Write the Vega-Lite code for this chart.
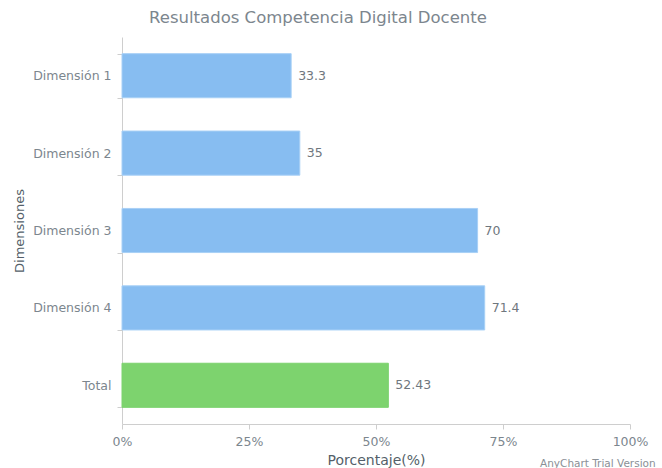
{
  "$schema": "https://vega.github.io/schema/vega-lite/v6.json",
  "width": 508,
  "height": 387,
  "autosize": {"type": "none"},
  "padding": {"left": 122, "top": 37, "right": 32, "bottom": 44},
  "background": "white",
  "title": {
    "text": "Resultados Competencia Digital Docente",
    "anchor": "middle",
    "frame": "group",
    "dx": -58,
    "font": "DejaVu Sans",
    "fontSize": 16.5,
    "fontWeight": "normal",
    "color": "#7c868e",
    "offset": 5
  },
  "config": {
    "view": {"stroke": null},
    "font": "DejaVu Sans"
  },
  "data": {
    "values": [
      {"dim": "Dimensión 1", "val": 33.3, "grp": "dim"},
      {"dim": "Dimensión 2", "val": 35, "grp": "dim"},
      {"dim": "Dimensión 3", "val": 70, "grp": "dim"},
      {"dim": "Dimensión 4", "val": 71.4, "grp": "dim"},
      {"dim": "Total", "val": 52.43, "grp": "total"}
    ]
  },
  "encoding": {
    "y": {
      "field": "dim",
      "type": "nominal",
      "sort": null,
      "scale": {"paddingInner": 0.43, "paddingOuter": 0.215},
      "axis": {
        "title": "Dimensiones",
        "titleFont": "DejaVu Sans",
        "titleFontSize": 13,
        "titleFontWeight": "normal",
        "titleColor": "#545f69",
        "titlePadding": 6,
        "labelFont": "DejaVu Sans",
        "labelFontSize": 12.5,
        "labelColor": "#7c868e",
        "labelPadding": 6,
        "tickBand": "extent",
        "tickSize": 5,
        "tickColor": "#cecece",
        "domainColor": "#cecece",
        "grid": false
      }
    },
    "x": {
      "field": "val",
      "type": "quantitative",
      "scale": {"domain": [0, 100], "nice": false},
      "axis": {
        "title": "Porcentaje(%)",
        "titleFont": "DejaVu Sans",
        "titleFontSize": 14,
        "titleFontWeight": "normal",
        "titleColor": "#545f69",
        "titlePadding": 6,
        "values": [0, 25, 50, 75, 100],
        "labelExpr": "datum.value + '%'",
        "labelFlush": false,
        "labelFont": "DejaVu Sans",
        "labelFontSize": 12.5,
        "labelColor": "#7c868e",
        "labelPadding": 6,
        "tickSize": 5,
        "tickColor": "#cecece",
        "domainColor": "#cecece",
        "grid": false
      }
    }
  },
  "layer": [
    {
      "mark": {"type": "bar", "strokeWidth": 1},
      "encoding": {
        "color": {
          "field": "grp",
          "type": "nominal",
          "scale": {"domain": ["dim", "total"], "range": ["#87bdf1", "#7dd36e"]},
          "legend": null
        },
        "stroke": {
          "field": "grp",
          "type": "nominal",
          "scale": {"domain": ["dim", "total"], "range": ["#a8d0f6", "#7dd36e"]},
          "legend": null
        }
      }
    },
    {
      "mark": {"type": "text", "align": "left", "baseline": "middle", "dx": 7, "font": "DejaVu Sans", "fontSize": 12.5, "color": "#6f777e"},
      "encoding": {
        "text": {"field": "val", "type": "nominal"}
      }
    },
    {
      "data": {"values": [{"t": "AnyChart Trial Version", "dim": "Total", "val": 100}]},
      "mark": {"type": "text", "align": "left", "baseline": "middle", "dx": -90, "dy": 79, "font": "DejaVu Sans", "fontSize": 10.5, "color": "#8a9096"},
      "encoding": {
        "text": {"field": "t", "type": "nominal"}
      }
    }
  ]
}
